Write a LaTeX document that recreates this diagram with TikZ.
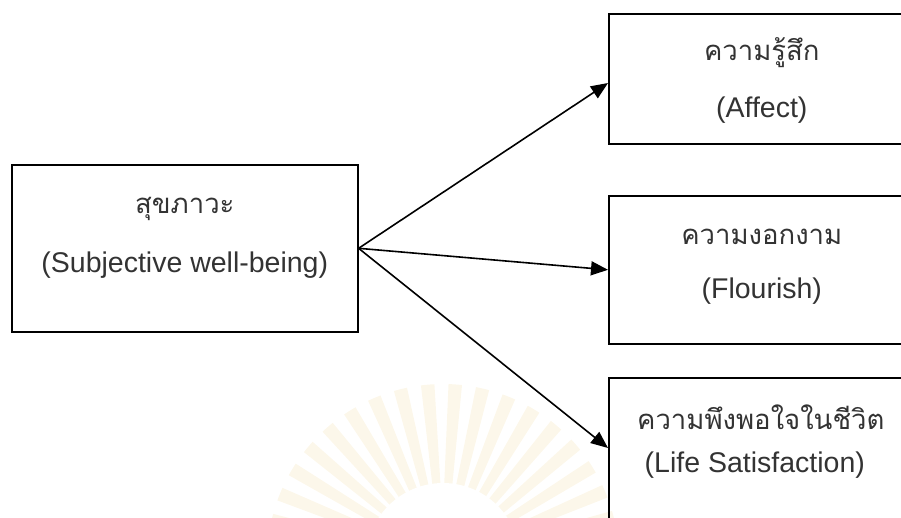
\documentclass[tikz,border=0pt]{standalone}
\usepackage{fontspec}
\setmainfont{Liberation Sans}
\newfontfamily\thaifont[Script=Thai]{Loma}
\usetikzlibrary{arrows.meta}

\definecolor{sealray}{HTML}{FCF7EA}

\tikzset{
  box/.style={draw=black, line width=1.6pt, fill=none, rectangle, anchor=north west, inner sep=0pt},
  thline/.style={font=\thaifont\fontsize{27.5}{33}\selectfont, inner sep=0pt, text=black!80},
  enline/.style={font=\fontsize{28.5}{34}\selectfont, inner sep=0pt, text=black!80},
  arr/.style={line width=1.6pt, -{Triangle[length=17pt,width=14pt]}},
}

\begin{document}
\begin{tikzpicture}[x=1pt,y=-1pt]
  \useasboundingbox (0,0) rectangle (901,517);
  \begin{scope}
    \clip (0,0) rectangle (901,517);
    % faint seal behind the lower half
    \begin{scope}[shift={(443,560)}]
      \foreach \i in {0,...,39}{
        \pgfmathsetmacro{\a}{\i*9+4}
        \fill[sealray] (\a-3.2:70) -- (\a-2.2:176) arc[start angle=\a-2.2, end angle=\a+2.2, radius=176] -- (\a+3.2:70) -- cycle;
      }
      \fill[white] (0,0) circle (77);
    \end{scope}

    % boxes
    \node[box, minimum width=346pt, minimum height=167pt] (b0) at (11,164) {};
    \node[box, minimum width=306pt, minimum height=130pt] (b1) at (608,13) {};
    \node[box, minimum width=306pt, minimum height=148pt] (b2) at (608,195) {};
    \node[box, minimum width=306pt, minimum height=170pt] (b3) at (608,377) {};
  \end{scope}

  % labels
  \node[thline] (t0) at ([yshift=-45pt]b0.north) {สุขภาวะ};
  \node[enline] (e0) at ([yshift=-101pt]b0.north) {(Subjective well-being)};
  \node[thline] (t1) at ([yshift=-40pt]b1.north) {ความรู้สึก};
  \node[enline] (e1) at ([yshift=-97pt]b1.north) {(Affect)};
  \node[thline] (t2) at ([yshift=-42pt]b2.north) {ความงอกงาม};
  \node[enline] (e2) at ([yshift=-96pt]b2.north) {(Flourish)};
  \node[thline] (t3) at ([xshift=-1pt,yshift=-40pt]b3.north) {ความพึงพอใจในชีวิต};
  \node[enline] (e3) at ([xshift=-7pt,yshift=-88pt]b3.north) {(Life Satisfaction)};

  % connectors
  \draw[arr] (b0.east) -- ([yshift=-70pt]b1.north west);
  \draw[arr] (b0.east) -- (b2.west);
  \draw[arr] (b0.east) -- ([yshift=-71pt]b3.north west);
\end{tikzpicture}
\end{document}
